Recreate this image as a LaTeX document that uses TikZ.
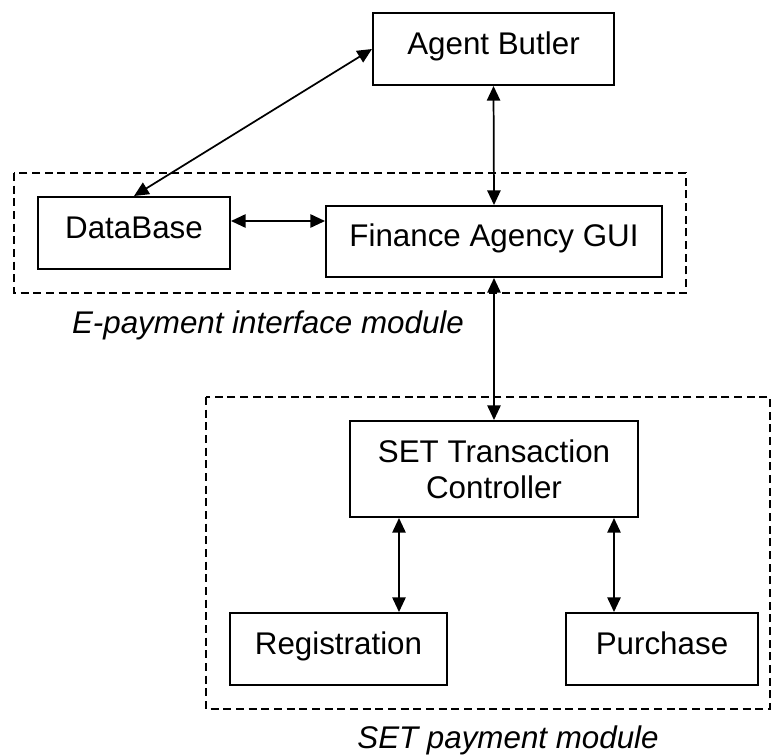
\documentclass[tikz,border=0pt]{standalone}
\usepackage{fontspec}
\setmainfont{Liberation Sans}
\usetikzlibrary{arrows.meta}
\begin{document}
\begin{tikzpicture}[x=0.75pt,y=-0.75pt,
  box/.style={draw,line width=1.5pt,inner sep=0pt,font=\fontsize{23.5}{27}\selectfont,
    text height=16.5pt,text depth=9pt,align=center},
  arr/.style={line width=1.3pt,{Triangle[length=11pt,width=10pt]}-{Triangle[length=11pt,width=10pt]}},
  group/.style={draw,line width=1pt,dash pattern=on 6pt off 3.5pt},
  grouplabel/.style={font=\fontsize{23.5}{27}\selectfont\itshape,anchor=base,inner sep=0pt}]
\useasboundingbox (0,0) rectangle (773,754);
\draw[group] (14,173) rectangle (686,293);
\draw[group] (206,397) rectangle (770,709);
\node[box,minimum width=180.75pt,minimum height=54pt] (ab) at (493.5,49) {Agent Butler};
\node[box,minimum width=144pt,minimum height=54pt] (db) at (134,233) {DataBase};
\node[box,minimum width=252pt,minimum height=53.25pt] (fin) at (494,241.5) {Finance Agency GUI};
\node[box,minimum width=216pt,minimum height=72pt,text height=43.5pt,text depth=0pt] (set) at (494,469) {SET Transaction\\Controller};
\node[box,minimum width=162.75pt,minimum height=54pt] (reg) at (338.5,649) {Registration};
\node[box,minimum width=144pt,minimum height=54pt] (pur) at (662,649) {Purchase};
\node[grouplabel] (l1) at (268,333) {E-payment interface module};
\node[grouplabel] (l2) at (508,748) {SET payment module};
\draw[arr] (db.north) -- (ab.west);
\draw[arr] ([yshift=9pt]db.east) -- ([yshift=9pt]db.east -| fin.west);
\draw[arr] (ab.south) -- (fin.north);
\draw[arr] (fin.south) -- (set.north);
\draw[arr] ([xshift=-71.25pt]set.south) -- ([xshift=-71.25pt]set.south |- reg.north);
\draw[arr] ([xshift=90pt]set.south) -- ([xshift=90pt]set.south |- pur.north);
\end{tikzpicture}
\end{document}
